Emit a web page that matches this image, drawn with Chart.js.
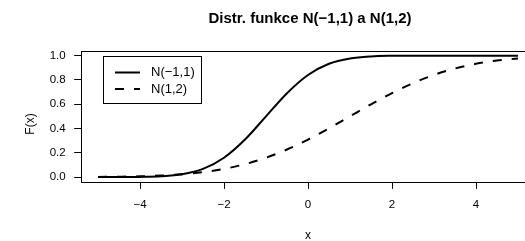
<!DOCTYPE html>
<html>
<head>
<meta charset="utf-8">
<script src="https://cdn.jsdelivr.net/npm/chart.js@4"></script>
<style>
  html, body { margin: 0; padding: 0; background: #fff; overflow: hidden; }
  #wrap { width: 525px; height: 241px; overflow: hidden; }
</style>
</head>
<body>
<div id="wrap"><canvas id="c" width="550" height="241"></canvas></div>
<script>
/* Distribution functions */
const xs    = [-5, -4.5, -4, -3.5, -3, -2.5, -2, -1.5, -1, -0.5, 0, 0.5, 1, 1.5, 2, 2.5, 3, 3.5, 4, 4.5, 5];
const cdfA  = [0.000, 0.000, 0.001, 0.006, 0.023, 0.067, 0.159, 0.309, 0.500, 0.691, 0.841,
               0.933, 0.977, 0.994, 0.999, 1.000, 1.000, 1.000, 1.000, 1.000, 1.000];
const cdfB  = [0.001, 0.003, 0.006, 0.012, 0.023, 0.040, 0.067, 0.106, 0.159, 0.227, 0.309,
               0.401, 0.500, 0.599, 0.691, 0.773, 0.841, 0.894, 0.933, 0.960, 0.977];
const labels = ['N(\u22121,1)', 'N(1,2)'];
const xTicks = [-4, -2, 0, 2, 4];
const yTicks = [0, 0.2, 0.4, 0.6, 0.8, 1.0];

const FONT = 'Liberation Sans, Arial, Helvetica, sans-serif';
const pts = ys => xs.map((x, i) => ({ x, y: ys[i] }));
const minus = v => v < 0 ? '\u2212' + Math.abs(v) : String(v);

const frame = {
  id: 'frame',
  afterDraw(chart) {
    const { ctx, chartArea: a } = chart;
    ctx.save();
    ctx.strokeStyle = '#000'; ctx.lineWidth = 1;
    ctx.strokeRect(Math.round(a.left) + 0.5, Math.round(a.top) + 0.5,
                   Math.round(a.right - a.left), Math.round(a.bottom - a.top));

    // title and axis labels
    const cx = (a.left + a.right) / 2 + 2;
    ctx.fillStyle = '#000';
    ctx.textAlign = 'center'; ctx.textBaseline = 'alphabetic';
    ctx.font = 'bold 15px ' + FONT;
    ctx.fillText('Distr. funkce N(\u22121,1) a N(1,2)', cx, 23);
    ctx.font = '12px ' + FONT;
    ctx.fillText('x', cx - 2, 239);
    ctx.save();
    ctx.translate(33.5, 124); ctx.rotate(-Math.PI / 2);
    ctx.fillText('F(x)', 0, 0);
    ctx.restore();

    // legend box
    ctx.strokeRect(103.5, 56.5, 98, 47);
    ctx.font = '13px ' + FONT;
    chart.data.datasets.forEach((d, i) => {
      const y = 72.5 + i * 16.5;
      ctx.save();
      ctx.lineWidth = d.borderWidth;
      ctx.setLineDash(d.borderDash || []);
      ctx.beginPath(); ctx.moveTo(115, y); ctx.lineTo(140, y); ctx.stroke();
      ctx.restore();
      ctx.textAlign = 'left'; ctx.textBaseline = 'middle';
      ctx.fillText(d.label, 151, y);
    });
    ctx.restore();
  }
};

new Chart(document.getElementById('c'), {
  type: 'line',
  data: {
    datasets: [
      { label: labels[0], data: pts(cdfA), borderColor: '#000', borderWidth: 2,
        pointRadius: 0, cubicInterpolationMode: 'monotone', fill: false },
      { label: labels[1], data: pts(cdfB), borderColor: '#000', borderWidth: 2, borderDash: [9, 10],
        pointRadius: 0, cubicInterpolationMode: 'monotone', fill: false }
    ]
  },
  options: {
    responsive: false, animation: false, devicePixelRatio: 1,
    layout: { padding: { left: 0, top: 50.8, right: 15.2, bottom: 0 } },
    plugins: { legend: { display: false }, tooltip: { enabled: false } },
    scales: {
      x: {
        type: 'linear', min: -5.4, max: 5.4,
        afterBuildTicks: s => { s.ticks = xTicks.map(v => ({ value: v })); },
        afterFit: s => { s.height = 59.1; },
        grid: { display: true, drawOnChartArea: false, drawTicks: true, tickLength: 7, color: '#000' },
        border: { display: false },
        ticks: { padding: 9.5, color: '#000', font: { family: FONT, size: 11.5 }, callback: v => minus(v), maxRotation: 0 }
      },
      y: {
        min: -0.04, max: 1.04,
        afterBuildTicks: s => { s.ticks = yTicks.map(v => ({ value: v })); },
        afterFit: s => { s.width = 81.2; },
        grid: { display: true, drawOnChartArea: false, drawTicks: true, tickLength: 7, color: '#000' },
        border: { display: false },
        ticks: { padding: 8.5, color: '#000', font: { family: FONT, size: 11.5 }, callback: v => v.toFixed(1) }
      }
    }
  },
  plugins: [frame]
});
</script>
</body>
</html>
